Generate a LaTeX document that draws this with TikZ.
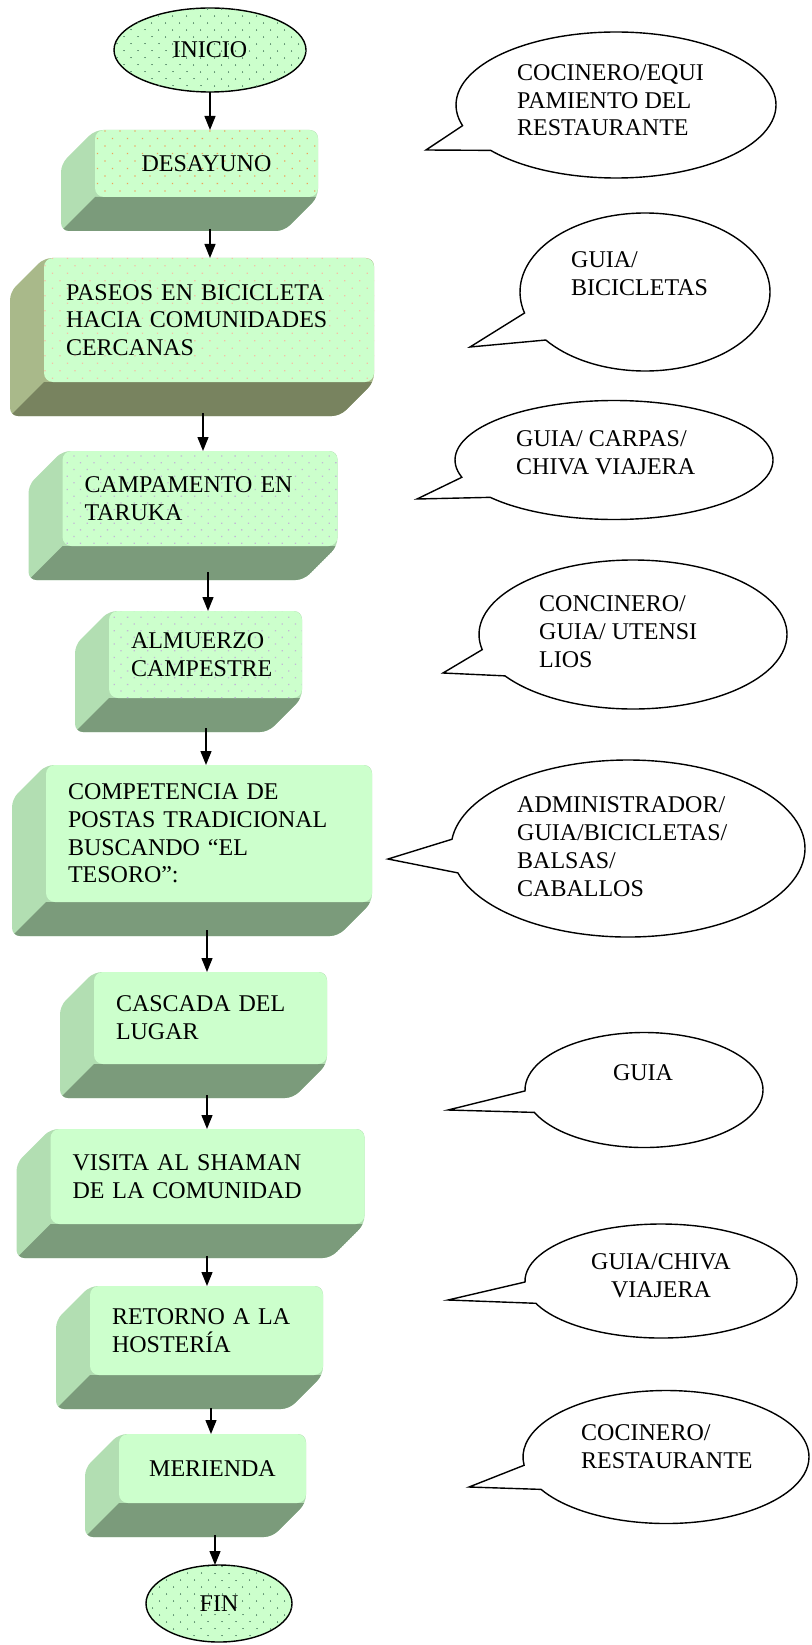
\documentclass[tikz,border=0pt]{standalone}
\usepackage{fontspec}
\setmainfont{Liberation Serif}
\usetikzlibrary{shapes.geometric,shapes.callouts,arrows.meta,patterns.meta,backgrounds}

\definecolor{facegreen}{RGB}{204,255,204}
\definecolor{sidegreen}{RGB}{178,222,178}
\definecolor{undergreen}{RGB}{123,155,123}
\definecolor{sideolive}{RGB}{169,185,138}
\definecolor{underolive}{RGB}{120,131,95}
\definecolor{dotorange}{RGB}{240,160,90}
\definecolor{dotpink}{RGB}{245,192,165}
\definecolor{dotlilac}{RGB}{195,182,215}
\definecolor{dotdark}{RGB}{80,130,100}

\tikzset{
  txt/.style={font=\fontsize{24}{27.7}\selectfont},
  terminal/.style={ellipse, draw, line width=1.4pt, fill=facegreen, inner sep=0pt, outer sep=0pt, txt,
    postaction={pattern={Dots[distance=10.5pt,angle=45,radius=0.8pt]}, pattern color=dotdark}},
  face/.style={rectangle, rounded corners=9pt, fill=facegreen, inner ysep=0pt, inner xsep=22pt,
    outer sep=0pt, align=left, txt},
  dotsOrange/.style={postaction={pattern={Dots[distance=10.6pt,angle=45,radius=0.9pt]}, pattern color=dotorange}},
  dotsPink/.style={postaction={pattern={Dots[distance=10.6pt,angle=45,radius=0.9pt]}, pattern color=dotpink}},
  dotsLilac/.style={postaction={pattern={Dots[distance=9.5pt,angle=45,radius=0.9pt]}, pattern color=dotlilac}},
  bubble/.style={ellipse callout, draw, line width=1.4pt, fill=white, inner sep=0pt, callout pointer arc=22},
  note/.style={txt, align=left, inner sep=0pt, anchor=base west},
  flow/.style={line width=1.3pt, -{Triangle[length=14pt,width=11pt]}}
}

% 3D side and bottom of an activity box, drawn behind it
\newcommand{\extrude}[3]{%
  \begin{pgfonlayer}{background}
  \begin{scope}
    \clip[rounded corners=8pt] (#1.north west) -- (#1.north east) -- (#1.south east)
      -- ([shift={(-34,34)}]#1.south east) -- ([shift={(-34,34)}]#1.south west)
      -- ([shift={(-34,34)}]#1.north west) -- cycle;
    \fill[#2] ([shift={(-40,-5)}]#1.north west) rectangle ([shift={(5,40)}]#1.south east);
    \fill[#3] (#1.south west) -- (#1.south east) -- ([shift={(-34,34)}]#1.south east)
      -- ([shift={(-34,34)}]#1.south west) -- cycle;
  \end{scope}
  \end{pgfonlayer}}

\begin{document}
\begin{tikzpicture}[x=1pt, y=-1pt]
\useasboundingbox (0,0) rectangle (811,1645);

% start and end
\node[terminal, minimum width=192pt, minimum height=84pt] (inicio) at (210,50) {INICIO};
\node[terminal, minimum width=146pt, minimum height=77pt] (fin) at (219,1603.5) {FIN};

% activities
\node[face, dotsOrange, align=center, minimum width=223pt, minimum height=67pt, text width=179pt] (desayuno) at (206.5,163.5) {DESAYUNO};
\extrude{desayuno}{sidegreen}{undergreen}
\node[face, dotsPink, minimum width=330pt, minimum height=124pt, text width=286pt] (paseos) at (209,320) {PASEOS EN BICICLETA\\HACIA COMUNIDADES\\CERCANAS};
\extrude{paseos}{sideolive}{underolive}
\node[face, dotsLilac, minimum width=275pt, minimum height=95pt, text width=231pt] (campamento) at (200,498.5) {CAMPAMENTO EN\\TARUKA};
\extrude{campamento}{sidegreen}{undergreen}
\node[face, dotsLilac, minimum width=193pt, minimum height=87pt, text width=149pt] (almuerzo) at (205.5,654.5) {ALMUERZO\\CAMPESTRE};
\extrude{almuerzo}{sidegreen}{undergreen}
\node[face, minimum width=326pt, minimum height=137pt, text width=282pt] (competencia) at (209,833.5) {COMPETENCIA DE\\POSTAS TRADICIONAL\\BUSCANDO “EL\\TESORO”:};
\extrude{competencia}{sidegreen}{undergreen}
\node[face, minimum width=233pt, minimum height=92pt, text width=189pt] (cascada) at (210.5,1018) {CASCADA DEL\\LUGAR};
\extrude{cascada}{sidegreen}{undergreen}
\node[face, minimum width=314pt, minimum height=95pt, text width=270pt] (visita) at (207.5,1176.5) {VISITA AL SHAMAN\\DE LA COMUNIDAD};
\extrude{visita}{sidegreen}{undergreen}
\node[face, minimum width=233pt, minimum height=89pt, text width=189pt] (retorno) at (206.5,1330.5) {RETORNO A LA\\HOSTERÍA};
\extrude{retorno}{sidegreen}{undergreen}
\node[face, align=center, minimum width=187pt, minimum height=69pt, text width=143pt] (merienda) at (212.5,1468.5) {MERIENDA};
\extrude{merienda}{sidegreen}{undergreen}

% feet of the boxes
\coordinate (desayuno-foot) at (210,229);
\coordinate (paseos-foot) at (203,413);
\coordinate (campamento-foot) at (208,572);
\coordinate (almuerzo-foot) at (206,728);
\coordinate (competencia-foot) at (207,930);
\coordinate (cascada-foot) at (207,1095);
\coordinate (visita-foot) at (207,1256);
\coordinate (retorno-foot) at (211,1408);
\coordinate (merienda-foot) at (215,1535);

% sequence
\draw[flow] (inicio.south) -- (inicio.south |- desayuno.north);
\draw[flow] (desayuno-foot) -- (desayuno-foot |- paseos.north);
\draw[flow] (paseos-foot) -- (paseos-foot |- campamento.north);
\draw[flow] (campamento-foot) -- (campamento-foot |- almuerzo.north);
\draw[flow] (almuerzo-foot) -- (almuerzo-foot |- competencia.north);
\draw[flow] (competencia-foot) -- (competencia-foot |- cascada.north);
\draw[flow] (cascada-foot) -- (cascada-foot |- visita.north);
\draw[flow] (visita-foot) -- (visita-foot |- retorno.north);
\draw[flow] (retorno-foot) -- (retorno-foot |- merienda.north);
\draw[flow] (merienda-foot) -- (merienda-foot |- fin.north);

% resources (text placed at the baseline of its last line)
\node[bubble, minimum width=320pt, minimum height=146pt, callout absolute pointer={(426,150)}] (cocinero) at (616,105) {};
\node[note] (cocinero-txt) at (517,136) {COCINERO/EQUI\\PAMIENTO DEL\\RESTAURANTE};
\node[bubble, minimum width=250pt, minimum height=158pt, callout absolute pointer={(470,347)}] (bicis) at (645,292) {};
\node[note] (bicis-txt) at (571,295) {GUIA/\\BICICLETAS};
\node[bubble, minimum width=318pt, minimum height=119pt, callout absolute pointer={(417,499)}] (carpas) at (614,460) {};
\node[note] (carpas-txt) at (516,474) {GUIA/ CARPAS/\\CHIVA VIAJERA};
\node[bubble, minimum width=308pt, minimum height=149pt, callout absolute pointer={(443,673)}] (utensilios) at (633,634.5) {};
\node[note] (utensilios-txt) at (539,667) {CONCINERO/\\GUIA/ UTENSI\\LIOS};
\node[bubble, minimum width=354pt, minimum height=177pt, callout absolute pointer={(388,859)}] (admin) at (628,848.5) {};
\node[note] (admin-txt) at (517,896) {ADMINISTRADOR/\\GUIA/BICICLETAS/\\BALSAS/\\CABALLOS};
\node[bubble, minimum width=238pt, minimum height=115pt, callout absolute pointer={(448,1110)}] (guia) at (644,1090) {};
\node[note, anchor=base] (guia-txt) at (643,1080) {GUIA};
\node[bubble, minimum width=272pt, minimum height=114pt, callout absolute pointer={(448,1300)}] (chiva) at (661,1281) {};
\node[note, anchor=base, align=center] (chiva-txt) at (661,1297) {GUIA/CHIVA\\VIAJERA};
\node[bubble, minimum width=286pt, minimum height=133pt, callout absolute pointer={(469,1487)}] (restaurante) at (666,1457) {};
\node[note] (restaurante-txt) at (581,1468) {COCINERO/\\RESTAURANTE};
\end{tikzpicture}
\end{document}
